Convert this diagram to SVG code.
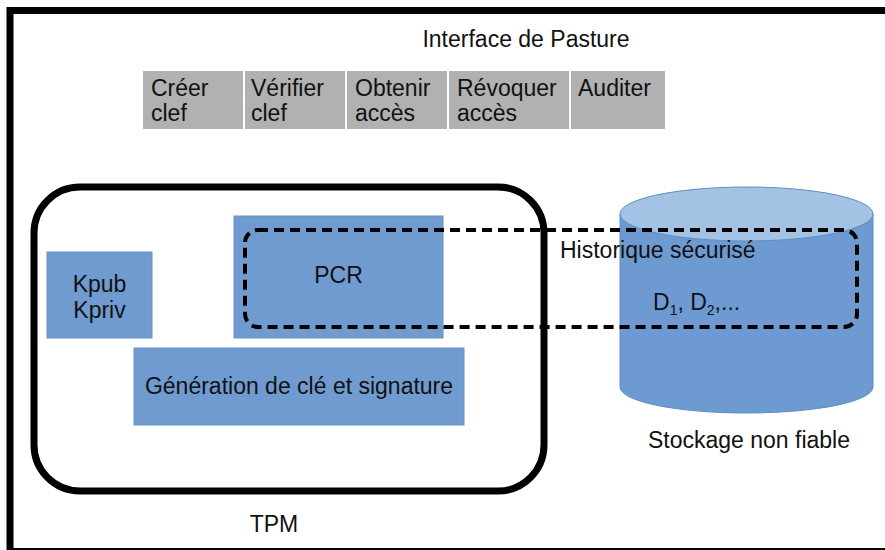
<svg xmlns="http://www.w3.org/2000/svg" width="885" height="550" viewBox="0 0 885 550">
<defs>
<style>
text{font-family:"Liberation Sans",Arial,sans-serif;font-size:23px;fill:#111}
.btn{fill:#b1b1b1;stroke:#fff;stroke-width:2}
.blue{fill:#6f9bd1;stroke:#6a92c4;stroke-width:1}
</style>
</defs>
<rect x="0" y="0" width="885" height="550" fill="#fff"/>
<g id="frame">
<rect x="10" y="10.5" width="900" height="541" fill="none" stroke="#000" stroke-width="7"/>
</g>
<g id="interface">
<text x="526" y="47" text-anchor="middle">Interface de Pasture</text>
</g>
<g id="btn-creer"><rect class="btn" x="142" y="70" width="102" height="60"/><text x="151" y="96">Créer</text><text x="151" y="121">clef</text></g>
<g id="btn-verifier"><rect class="btn" x="244" y="70" width="102" height="60"/><text x="251" y="96">Vérifier</text><text x="251" y="121">clef</text></g>
<g id="btn-obtenir"><rect class="btn" x="346" y="70" width="102" height="60"/><text x="355" y="96">Obtenir</text><text x="355" y="121">accès</text></g>
<g id="btn-revoquer"><rect class="btn" x="448" y="70" width="122" height="60"/><text x="457" y="96">Révoquer</text><text x="457" y="121">accès</text></g>
<g id="btn-auditer"><rect class="btn" x="570" y="70" width="96" height="60"/><text x="578" y="96">Auditer</text></g>
<g id="storage">
<path d="M620 214 L620 387 A126.5 26 0 0 0 873 387 L873 214 Z" fill="#6d9bd1" stroke="#5f8cc2" stroke-width="1"/>
<ellipse cx="746.5" cy="214" rx="126.5" ry="27" fill="#a3c2e4" stroke="#5f8cc2" stroke-width="1"/>
<text x="749" y="448" text-anchor="middle">Stockage non fiable</text>
</g>
<g id="tpm">
<rect x="34" y="187" width="510" height="304" rx="46" ry="46" fill="none" stroke="#000" stroke-width="7"/>
<text x="274" y="532" text-anchor="middle">TPM</text>
</g>
<g id="kpub">
<rect class="blue" x="47" y="252" width="105" height="86"/>
<text x="99.5" y="292" text-anchor="middle">Kpub</text>
<text x="99.5" y="318" text-anchor="middle">Kpriv</text>
</g>
<g id="pcr">
<rect class="blue" x="234" y="216" width="209" height="122"/>
<text x="338.5" y="283" text-anchor="middle">PCR</text>
</g>
<g id="generation">
<rect class="blue" x="134" y="348" width="330" height="77"/>
<text x="299" y="394" text-anchor="middle">Génération de clé et signature</text>
</g>
<g id="historique">
<rect x="245" y="230" width="612" height="97" rx="13" ry="13" fill="none" stroke="#000" stroke-width="4" stroke-dasharray="10 6"/>
<text x="560" y="258">Historique sécurisé</text>
<text x="653" y="310">D<tspan font-size="14" dy="5">1</tspan><tspan dy="-5">, D</tspan><tspan font-size="14" dy="5">2</tspan><tspan dy="-5">,...</tspan></text>
</g>
<g id="connectors"/>
</svg>
